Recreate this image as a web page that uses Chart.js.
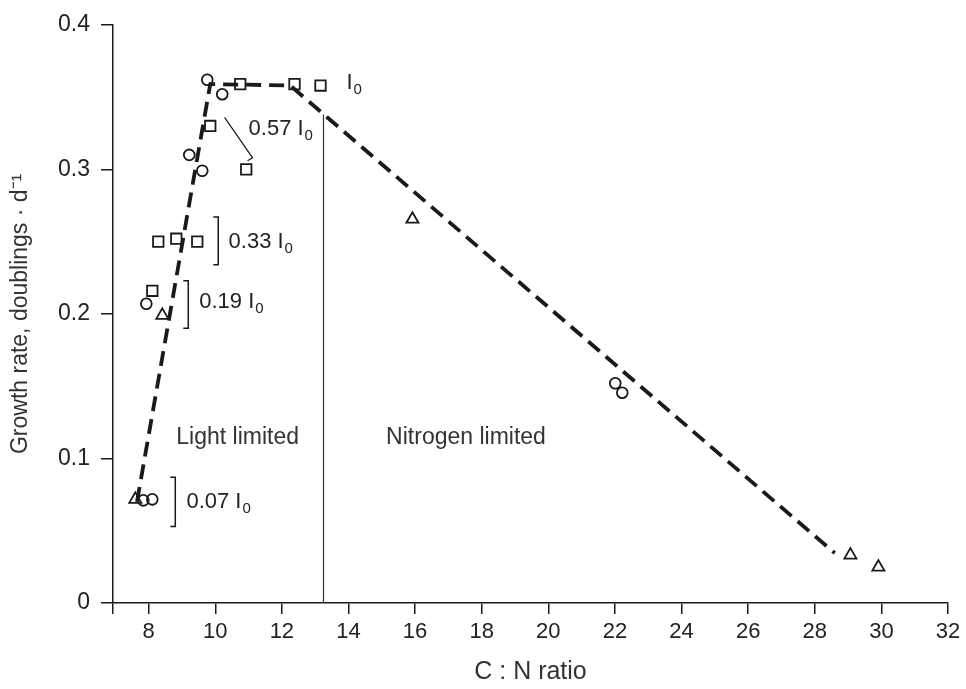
<!DOCTYPE html>
<html><head><meta charset="utf-8">
<script src="https://cdn.jsdelivr.net/npm/chart.js@4/dist/chart.umd.min.js"></script>
<style>html,body{margin:0;padding:0;background:#fff;}#wrap{width:966px;height:689px;position:relative;}</style>
</head><body><div id="wrap"><canvas id="c"></canvas></div>
<script>
// ---- data ----
const circleX   = [9.76, 10.21, 9.22, 9.61, 7.93, 7.84, 8.11, 22.01, 22.22];
const circleY   = [0.362, 0.352, 0.310, 0.299, 0.207, 0.071, 0.0717, 0.152, 0.1455];
const squareX   = [10.75, 12.38, 13.16, 9.85, 10.93, 8.29, 8.83, 9.46, 8.11];
const squareY   = [0.359, 0.359, 0.358, 0.330, 0.300, 0.250, 0.252, 0.250, 0.216];
const triangleX = [8.41, 7.60, 15.92, 29.07, 29.91];
const triangleY = [0.199, 0.0717, 0.2655, 0.0331, 0.0248];
const fitX      = [7.65, 9.85, 12.25, 28.6];
const fitY      = [0.070, 0.359, 0.358, 0.0345];
const boundaryX = [13.25, 13.25];
const boundaryY = [0, 0.338];
const xTickValues = [8, 10, 12, 14, 16, 18, 20, 22, 24, 26, 28, 30, 32];
const yTickValues = [0, 0.1, 0.2, 0.3, 0.4];
const xMin = 6.93, xMax = 32, yMin = 0, yMax = 0.4;

// annotations (in data units)
const irradianceLabels = ['I', '0.57 I', '0.33 I', '0.19 I', '0.07 I'];
const irradianceX = [13.94, 11.0, 10.40, 9.52, 9.135];
const irradianceY = [0.3595, 0.328, 0.250, 0.2086, 0.070];
const regionText = ['Light limited', 'Nitrogen limited'];
const regionX = [8.83, 15.13];
const regionY = [0.1145, 0.1145];
const bracketX  = [10.09, 9.19, 8.80];
const bracketY1 = [0.267, 0.223, 0.087];
const bracketY2 = [0.234, 0.190, 0.053];
const connectorX = [10.28, 11.12, 10.97];
const connectorY = [0.336, 0.308, 0.306];

const pts = (xs, ys) => xs.map((x, i) => ({x, y: ys[i]}));
const FONT = "'Liberation Sans', Arial, Helvetica, sans-serif";
const INK = '#1a1a1a';

const annotPlugin = {
  id: 'annot',
  afterDatasetsDraw(chart) {
    const {ctx, scales: {x, y}} = chart;
    ctx.save();
    ctx.strokeStyle = INK; ctx.lineWidth = 1.5; ctx.lineCap = 'butt';
    bracketX.forEach((bx, i) => {
      const px = x.getPixelForValue(bx), p1 = y.getPixelForValue(bracketY1[i]), p2 = y.getPixelForValue(bracketY2[i]);
      ctx.beginPath();
      ctx.moveTo(px - 5, p1); ctx.lineTo(px, p1); ctx.lineTo(px, p2); ctx.lineTo(px - 5, p2);
      ctx.stroke();
    });
    ctx.lineWidth = 1.2;
    ctx.beginPath();
    connectorX.forEach((cx, i) => {
      const px = x.getPixelForValue(cx), py = y.getPixelForValue(connectorY[i]);
      if (i === 0) ctx.moveTo(px, py); else ctx.lineTo(px, py);
    });
    ctx.stroke();
    ctx.fillStyle = '#222';
    ctx.textBaseline = 'middle'; ctx.textAlign = 'left';
    irradianceLabels.forEach((t, i) => {
      const px = x.getPixelForValue(irradianceX[i]), py = y.getPixelForValue(irradianceY[i]);
      ctx.font = "22px " + FONT;
      ctx.fillText(t, px, py);
      const w = ctx.measureText(t).width;
      ctx.font = "15px " + FONT;
      ctx.fillText('0', px + w + 1, py + 7);
    });
    ctx.fillStyle = '#333';
    ctx.font = "23px " + FONT;
    regionText.forEach((t, i) => {
      ctx.fillText(t, x.getPixelForValue(regionX[i]), y.getPixelForValue(regionY[i]));
    });
    ctx.restore();
  }
};

const pointStyleBase = {showLine: false, borderColor: INK, backgroundColor: 'rgba(0,0,0,0)', borderWidth: 1.8, pointHoverRadius: 6};

new Chart(document.getElementById('c'), {
  type: 'scatter',
  data: {
    datasets: [
      Object.assign({label: 'circles', data: pts(circleX, circleY), pointStyle: 'circle', pointRadius: 5.4}, pointStyleBase),
      Object.assign({label: 'squares', data: pts(squareX, squareY), pointStyle: 'rect', pointRadius: 7.4}, pointStyleBase),
      Object.assign({label: 'triangles', data: pts(triangleX, triangleY), pointStyle: 'triangle', pointRadius: 7}, pointStyleBase),
      {label: 'fit', data: pts(fitX, fitY), showLine: true, pointRadius: 0, borderColor: INK, borderWidth: 3.8, borderDash: [15, 8], tension: 0, fill: false},
      {label: 'boundary', data: pts(boundaryX, boundaryY), showLine: true, pointRadius: 0, borderColor: '#333', borderWidth: 1.2, fill: false}
    ]
  },
  options: {
    responsive: true, maintainAspectRatio: false, animation: false,
    layout: {padding: {top: 23, right: 18, left: 0, bottom: 0}},
    plugins: {legend: {display: false}, tooltip: {enabled: false}},
    scales: {
      x: {
        type: 'linear', min: xMin, max: xMax,
        afterBuildTicks: s => { s.ticks = [xMin].concat(xTickValues).map(v => ({value: v})); },
        afterFit: s => { s.height = 86; },
        ticks: {color: '#222', font: {family: FONT, size: 22}, padding: 5, maxRotation: 0, autoSkip: false,
          callback: v => (v === xMin ? '' : String(v))},
        grid: {display: true, drawOnChartArea: false, tickLength: 11, color: INK, lineWidth: 1.5},
        border: {display: true, color: INK, width: 1.5},
        title: {display: true, text: 'C : N ratio', color: '#333', font: {family: FONT, size: 25}, padding: {top: 0, bottom: 2}}
      },
      y: {
        type: 'linear', min: yMin, max: yMax,
        afterBuildTicks: s => { s.ticks = yTickValues.map(v => ({value: v})); },
        afterFit: s => { s.width = 113; },
        ticks: {color: '#222', font: {family: FONT, size: 23}, padding: 11, callback: v => String(v)},
        grid: {display: true, drawOnChartArea: false, tickLength: 12, color: INK, lineWidth: 1.5},
        border: {display: true, color: INK, width: 1.5},
        title: {display: true, text: 'Growth rate, doublings · d⁻¹', color: '#333', font: {family: FONT, size: 23}, padding: {top: 7, bottom: 0}}
      }
    }
  },
  plugins: [annotPlugin]
});
</script></body></html>
